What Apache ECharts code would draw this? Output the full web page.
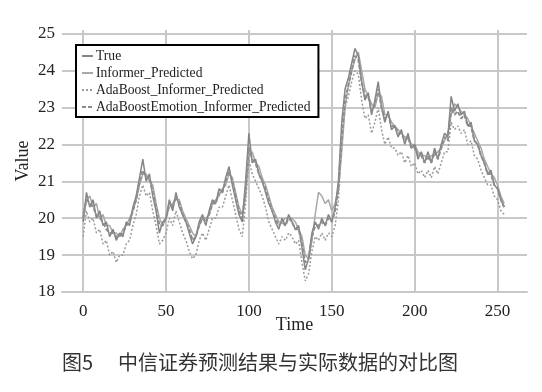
<!DOCTYPE html>
<html><head><meta charset="utf-8">
<script src="https://cdn.jsdelivr.net/npm/echarts@6/dist/echarts.min.js"></script>
<style>html,body{margin:0;padding:0;background:#fff}#c{width:542px;height:392px}</style>
</head><body><div id="c"></div>
<script>
// time step between stored points
const timeStep = 2;
const xTicks = [0, 50, 100, 150, 200, 250];
const yTicks = [18, 19, 20, 21, 22, 23, 24, 25];
const seriesNames = ['True', 'Informer_Predicted', 'AdaBoost_Informer_Predicted', 'AdaBoostEmotion_Informer_Predicted'];

const trueVals = [19.9,20.7,20.3,20.5,20.0,20.2,19.8,19.9,19.5,19.7,
 19.4,19.6,19.5,19.9,19.8,20.3,20.6,21.1,21.6,21.0,
 21.2,20.6,20.2,19.6,19.9,20.0,20.5,20.2,20.7,20.3,
 20.1,19.9,19.6,19.3,19.5,19.9,20.1,19.8,20.2,20.5,
 20.4,20.8,20.7,21.1,21.4,20.9,20.5,20.1,19.9,21.0,
 22.3,21.5,21.6,21.2,21.0,20.7,20.4,20.2,19.9,19.7,
 20.0,19.8,20.1,19.9,19.7,19.8,19.2,18.6,18.9,19.6,
 19.9,19.7,20.0,19.8,20.1,19.9,20.3,21.0,22.6,23.5,
 23.8,24.2,24.6,24.4,23.7,23.2,23.4,22.8,23.2,23.7,
 23.0,22.6,22.9,22.4,22.5,22.2,22.4,22.0,22.3,21.9,
 22.0,21.6,21.8,21.5,21.8,21.5,21.9,21.6,22.0,22.3,
 22.2,23.3,22.9,23.1,22.8,22.9,22.5,22.6,22.1,22.0,
 21.7,21.5,21.2,21.3,20.9,20.8,20.5,20.3];

const informerVals = [20.1,20.5,20.6,20.3,20.4,20.0,20.1,19.8,19.8,19.6,
 19.6,19.5,19.7,19.8,20.0,20.2,20.5,20.9,21.2,21.2,
 21.0,20.9,20.4,20.0,19.8,20.0,20.3,20.4,20.5,20.5,
 20.2,20.0,19.8,19.6,19.5,19.8,20.0,20.0,20.1,20.4,
 20.5,20.6,20.8,20.9,21.2,21.1,20.7,20.3,20.1,20.6,
 21.7,21.8,21.5,21.4,21.1,20.9,20.6,20.3,20.1,19.9,
 19.9,20.0,20.0,20.0,19.9,19.7,19.5,19.0,18.9,19.4,
 20.1,20.7,20.6,20.4,20.5,20.2,20.4,20.8,21.8,23.0,
 23.6,24.0,24.3,24.5,24.0,23.5,23.3,23.1,23.0,23.4,
 23.3,22.8,22.8,22.6,22.5,22.4,22.3,22.2,22.2,22.0,
 22.0,21.8,21.7,21.7,21.6,21.7,21.7,21.8,21.9,22.1,
 22.3,22.8,23.1,23.0,22.9,22.8,22.7,22.5,22.3,22.1,
 21.9,21.6,21.4,21.2,21.1,20.9,20.6,20.4];

const adaVals = [19.5,20.2,19.9,20.0,19.6,19.7,19.3,19.4,19.0,19.1,
 18.8,19.0,19.0,19.3,19.4,19.8,20.1,20.6,20.9,20.6,
 20.7,20.2,19.8,19.3,19.4,19.6,20.0,19.8,20.2,19.9,
 19.6,19.4,19.1,18.9,19.0,19.4,19.6,19.4,19.7,20.0,
 20.0,20.3,20.3,20.6,20.9,20.5,20.1,19.7,19.5,20.4,
 21.6,21.2,21.0,20.8,20.6,20.3,19.9,19.7,19.5,19.3,
 19.5,19.4,19.6,19.5,19.3,19.4,18.8,18.3,18.5,19.1,
 19.5,19.4,19.6,19.4,19.6,19.5,19.8,20.5,22.0,23.0,
 23.3,23.7,24.0,23.9,23.2,22.7,22.8,22.3,22.6,23.0,
 22.4,22.0,22.2,21.9,21.9,21.7,21.8,21.5,21.7,21.4,
 21.5,21.2,21.3,21.1,21.3,21.1,21.4,21.2,21.5,21.8,
 21.8,22.6,22.4,22.5,22.3,22.4,22.0,22.1,21.7,21.6,
 21.3,21.1,20.9,20.9,20.6,20.5,20.2,20.1];

const adaEmoVals = [20.0,20.5,20.4,20.3,20.1,20.0,19.9,19.7,19.6,19.6,
 19.5,19.5,19.6,19.8,19.9,20.2,20.5,21.0,21.3,21.1,
 21.1,20.7,20.3,19.8,19.8,20.0,20.4,20.3,20.6,20.4,
 20.1,19.9,19.7,19.4,19.5,19.8,20.0,19.9,20.1,20.4,
 20.4,20.7,20.7,21.0,21.3,21.0,20.6,20.2,20.0,20.8,
 21.9,21.6,21.5,21.2,21.0,20.8,20.5,20.2,20.0,19.8,
 19.9,19.8,20.0,19.9,19.7,19.7,19.3,18.8,18.9,19.5,
 19.8,19.8,19.9,19.8,20.0,19.9,20.2,20.8,22.2,23.2,
 23.6,24.0,24.4,24.3,23.7,23.3,23.3,22.9,23.1,23.5,
 23.0,22.7,22.8,22.5,22.5,22.3,22.3,22.1,22.2,21.9,
 21.9,21.7,21.7,21.5,21.7,21.5,21.8,21.6,21.9,22.2,
 22.1,23.0,22.8,22.9,22.7,22.8,22.5,22.5,22.1,22.0,
 21.7,21.5,21.2,21.2,20.9,20.8,20.5,20.3];

const toPairs = arr => arr.map((v, i) => [i * timeStep, v]);
const serif = '"Liberation Serif", "Times New Roman", serif';

const chart = echarts.init(document.getElementById('c'), null, {renderer: 'canvas'});
chart.setOption({
  animation: false,
  backgroundColor: '#fff',
  grid: {left: 62, right: 15, top: 30, bottom: 100},
  xAxis: {
    type: 'value', min: -12.75, max: 267.75,
    name: 'Time', nameLocation: 'middle', nameGap: 24, nameMoveOverlap: false,
    nameTextStyle: {fontFamily: serif, fontSize: 18, color: '#222'},
    axisLine: {show: true, lineStyle: {color: '#c8c8c8', width: 2}},
    axisTick: {show: false, customValues: xTicks},
    axisLabel: {customValues: xTicks, fontFamily: serif, fontSize: 17, color: '#222', margin: 11},
    splitLine: {show: true, lineStyle: {color: '#c8c8c8', width: 2}}
  },
  yAxis: {
    type: 'value', min: 18, max: 25.1,
    name: 'Value', nameLocation: 'middle', nameGap: 30, nameRotate: 90, nameMoveOverlap: false,
    nameTextStyle: {fontFamily: serif, fontSize: 18, color: '#222'},
    axisLine: {show: false},
    axisTick: {show: false, customValues: yTicks},
    axisLabel: {customValues: yTicks, fontFamily: serif, fontSize: 17, color: '#222', margin: 7},
    splitLine: {show: true, lineStyle: {color: '#c8c8c8', width: 2}}
  },
  legend: {
    orient: 'vertical', left: 76, top: 45,
    data: seriesNames,
    itemWidth: 11, itemHeight: 6, itemGap: 3,
    padding: [4, 8, 3, 5],
    borderColor: '#000', borderWidth: 2, backgroundColor: '#fff',
    itemStyle: {opacity: 0},
    textStyle: {fontFamily: serif, fontSize: 13.6, color: '#222', lineHeight: 14, padding: [0,0,0,-2]}
  },
  series: [
    {name: seriesNames[0], type: 'line', data: toPairs(trueVals), showSymbol: false, symbol: 'none',
     lineStyle: {color: '#858585', width: 1.5}, itemStyle: {color: '#858585'}, z: 4},
    {name: seriesNames[1], type: 'line', data: toPairs(informerVals), showSymbol: false, symbol: 'none',
     lineStyle: {color: '#a8a8a8', width: 1.5}, itemStyle: {color: '#a8a8a8'}, z: 3},
    {name: seriesNames[2], type: 'line', data: toPairs(adaVals), showSymbol: false, symbol: 'none',
     lineStyle: {color: '#9a9a9a', width: 1.5, type: [2, 2]}, itemStyle: {color: '#9a9a9a'}, z: 2},
    {name: seriesNames[3], type: 'line', data: toPairs(adaEmoVals), showSymbol: false, symbol: 'none',
     lineStyle: {color: '#8c8c8c', width: 2, type: [4, 2]}, itemStyle: {color: '#8c8c8c'}, z: 5}
  ],
  graphic: [
    {type: 'text', left: 62, top: 352, style: {text: '图5', font: '20px "Noto Sans CJK SC", sans-serif', fill: '#333'}},
    {type: 'text', left: 118, top: 352, style: {text: '中信证券预测结果与实际数据的对比图', font: '20px "Noto Sans CJK SC", sans-serif', fill: '#333'}}
  ]
});
</script></body></html>
